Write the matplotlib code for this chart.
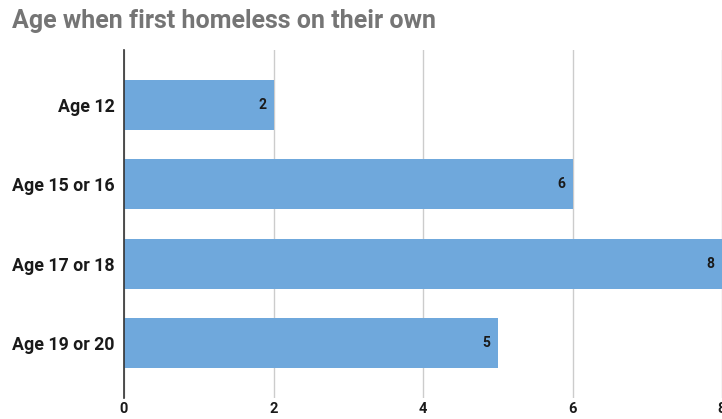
import matplotlib.pyplot as plt

# Survey data
categories = ["Age 12", "Age 15 or 16", "Age 17 or 18", "Age 19 or 20"]
counts = [2, 6, 8, 5]
x_ticks = [0, 2, 4, 6, 8]

plt.rcParams['font.family'] = ['Roboto', 'DejaVu Sans']

fig = plt.figure(figsize=(7.22, 4.19), dpi=100)
ax = fig.add_axes([124 / 722, 1 - 398 / 419, 1 - 124 / 722, (398 - 50) / 419])

ypos = list(range(len(categories)))
ax.barh(ypos, counts, height=0.63, color='#6fa8dc', zorder=3)

for y, v in zip(ypos, counts):
    ax.text(v - 0.1, y, str(v), ha='right', va='center',
            fontsize=10, fontweight='bold', color='#1a1a1a', zorder=4)

ax.set_xlim(0, 8)
ax.set_ylim(len(categories) - 1 + 0.69, -0.69)
ax.set_xticks(x_ticks)
ax.set_xticklabels([str(t) for t in x_ticks], fontsize=10.5, fontweight='bold', color='#1a1a1a')
ax.set_yticks(ypos)
ax.set_yticklabels(categories, fontsize=12.8, fontweight='bold', color='#1a1a1a')
ax.tick_params(axis='both', length=0)
ax.tick_params(axis='x', pad=3)
ax.tick_params(axis='y', pad=6.5)

ax.grid(axis='x', color='#cccccc', linewidth=1, zorder=0)
for s in ['top', 'right', 'bottom']:
    ax.spines[s].set_visible(False)
ax.spines['left'].set_color('#333333')
ax.spines['left'].set_linewidth(1.2)
ax.spines['left'].set_zorder(5)

fig.text(12 / 722, 1 - 21 / 419, "Age when first homeless on their own",
         fontsize=18, fontweight='bold', color='#757575', va='center', ha='left')

fig.savefig('out.png', dpi=100)
